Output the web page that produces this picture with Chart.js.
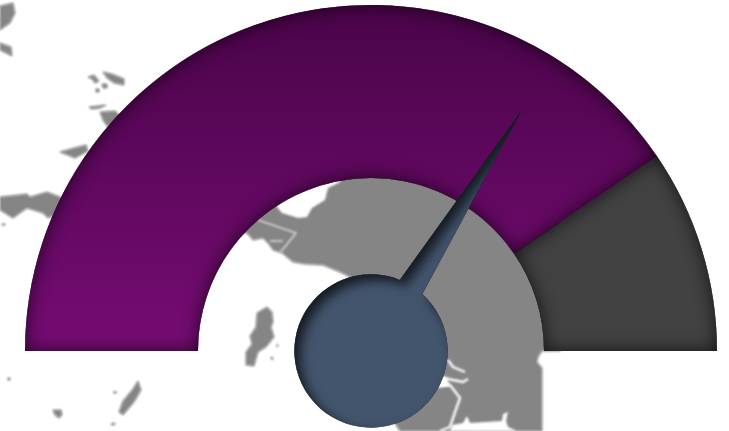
<!DOCTYPE html>
<html>
<head>
<meta charset="utf-8">
<style>html,body{margin:0;padding:0;background:#fff;overflow:hidden}canvas{display:block}</style>
<script src="https://cdn.jsdelivr.net/npm/chart.js@4"></script>
</head>
<body>
<canvas id="c" width="729" height="431"></canvas>
<script>
const categories = ['Filled', 'Remainder'];
const seriesValues = [81, 19];
const needleValue = [67.8];

/* Decorative backdrop map (not data) */
const mapLand = [
 'M240 170L560 170L560 351L542 351L538 357L537 362L542 368L542 431L400 431L380 400L350 277L340 272L323 265L305 264L293 262L282 253L273 250L268 243L263 238L253 240L247 233L235 232Z',
 'M0 6L13 3L15 13L10 23L0 30Z',
 'M0 43L11 47L12 56L4 52L0 50Z',
 'M103 72L112 74L124 79L124 85L114 83L107 78Z',
 'M88 77L94 75L99 81L95 83L92 79Z',
 'M102 84L107 84L107 88L103 88Z',
 'M96 89L99 89L99 92L96 92Z',
 'M89 107L106 105L100 108L92 109Z',
 'M100 112L115 111L125 120L107 126L103 120Z',
 'M60 152L74 148L86 145L88 151L75 158Z',
 'M0 197L27 194L30 197L47 192L60 197L75 205L48 218L43 213L27 208L13 218L0 210Z',
 'M2 224L5 224L5 225L2 225Z',
 'M8 378L10 378L10 380L8 380Z',
 'M53 410L61 410L62 415L59 418L55 415Z',
 'M138 381L141 390L134 402L123 415L119 412L123 401L133 389Z',
 'M113 392L117 392L116 393L114 393Z',
 'M111 424L115 423L114 425L112 425Z',
 'M267 307L272 312L273 322L271 327L274 337L266 347L258 352L254 366L246 365L246 352L252 344L250 336L256 327L257 313Z',
 'M277 344L278 345L277 347Z',
 'M271 357L273 358L272 360Z'
];
const mapWater = [
 'M345 170L340 182L328 188L325 200L312 208L307 217L298 218L282 213L277 207L270 190L300 170Z',
 'M450 431L452 425L463 423L467 416L470 423L502 421L503 414L508 412L506 421L508 427L517 431Z',
 'M440 375L447 378L450 386L438 388Z'
];
const mapRivers = [
 'M448 360L453 367L465 372',
 'M443 378L463 382L468 379',
 'M440 385L450 385L460 398L453 418L450 427L440 431'
];
const mapBorders = ['M258 220L296 233L280 253', 'M270 241L283 241'];

function insetShadow(ctx, buildPath, blur, alpha, ox, oy) {
  ctx.save();
  const clip = new Path2D(); buildPath(clip);
  ctx.clip(clip);
  const p = new Path2D();
  p.rect(-200, -200, 1200, 900);
  buildPath(p);
  ctx.shadowColor = 'rgba(0,0,0,' + alpha + ')';
  ctx.shadowBlur = blur;
  ctx.shadowOffsetX = ox;
  ctx.shadowOffsetY = oy;
  ctx.fillStyle = '#000';
  ctx.fill(p, 'evenodd');
  ctx.restore();
}

const gaugePlugin = {
  id: 'gauge',
  beforeDatasetsDraw(chart) {
    const ctx = chart.ctx;
    ctx.save();
    ctx.filter = 'blur(0.8px)';
    ctx.fillStyle = '#858585';
    ctx.strokeStyle = '#858585';
    ctx.lineWidth = 0.8;
    ctx.lineJoin = 'round';
    mapLand.forEach(d => { const p = new Path2D(d); ctx.fill(p); ctx.stroke(p); });
    ctx.fillStyle = '#fff';
    mapWater.forEach(d => ctx.fill(new Path2D(d)));
    ctx.strokeStyle = '#fff';
    ctx.lineWidth = 2.4;
    mapRivers.forEach(d => ctx.stroke(new Path2D(d)));
    ctx.strokeStyle = '#d8d8d8';
    ctx.lineWidth = 1.6;
    mapBorders.forEach(d => ctx.stroke(new Path2D(d)));
    ctx.restore();
  },
  afterDatasetsDraw(chart) {
    const ctx = chart.ctx;
    const arcs = chart.getDatasetMeta(0).data;
    arcs.forEach(el => {
      insetShadow(ctx, p => {
        p.moveTo(el.x + el.outerRadius * Math.cos(el.startAngle), el.y + el.outerRadius * Math.sin(el.startAngle));
        p.arc(el.x, el.y, el.outerRadius, el.startAngle, el.endAngle);
        p.arc(el.x, el.y, el.innerRadius, el.endAngle, el.startAngle, true);
        p.closePath();
      }, 18, 0.7, 0, 0);
    });
    const cx = arcs[0].x, cy = arcs[0].y, R = arcs[0].outerRadius;
    const total = seriesValues.reduce((a, b) => a + b, 0);
    const ang = -Math.PI + Math.PI * needleValue[0] / total;
    const tipR = R * 0.82, hubR = R * 0.2215, d = 10 * Math.PI / 180;
    const shape = p => {
      p.moveTo(cx + tipR * Math.cos(ang), cy + tipR * Math.sin(ang));
      p.arc(cx, cy, hubR, ang + d, ang - d + Math.PI * 2);
      p.closePath();
    };
    const path = new Path2D(); shape(path);
    ctx.save();
    ctx.fillStyle = '#43556d';
    ctx.fill(path);
    ctx.restore();
    insetShadow(ctx, shape, 12, 0.7, 6, 6);
  }
};

new Chart(document.getElementById('c'), {
  type: 'doughnut',
  data: {
    labels: categories,
    datasets: [{
      data: seriesValues,
      borderWidth: 0,
      backgroundColor(c) {
        if (c.dataIndex === 1) return '#424242';
        const a = c.chart.chartArea;
        if (!a) return '#5e0a5c';
        const g = c.chart.ctx.createLinearGradient(0, a.top, 0, a.bottom);
        g.addColorStop(0, '#4a0449');
        g.addColorStop(1, '#760c74');
        return g;
      }
    }]
  },
  options: {
    responsive: false,
    animation: false,
    rotation: -90,
    circumference: 180,
    cutout: '50%',
    layout: { padding: { left: 25, right: 12, top: 5, bottom: 80 } },
    plugins: { legend: { display: false }, tooltip: { enabled: false } }
  },
  plugins: [gaugePlugin]
});
</script>
</body>
</html>
